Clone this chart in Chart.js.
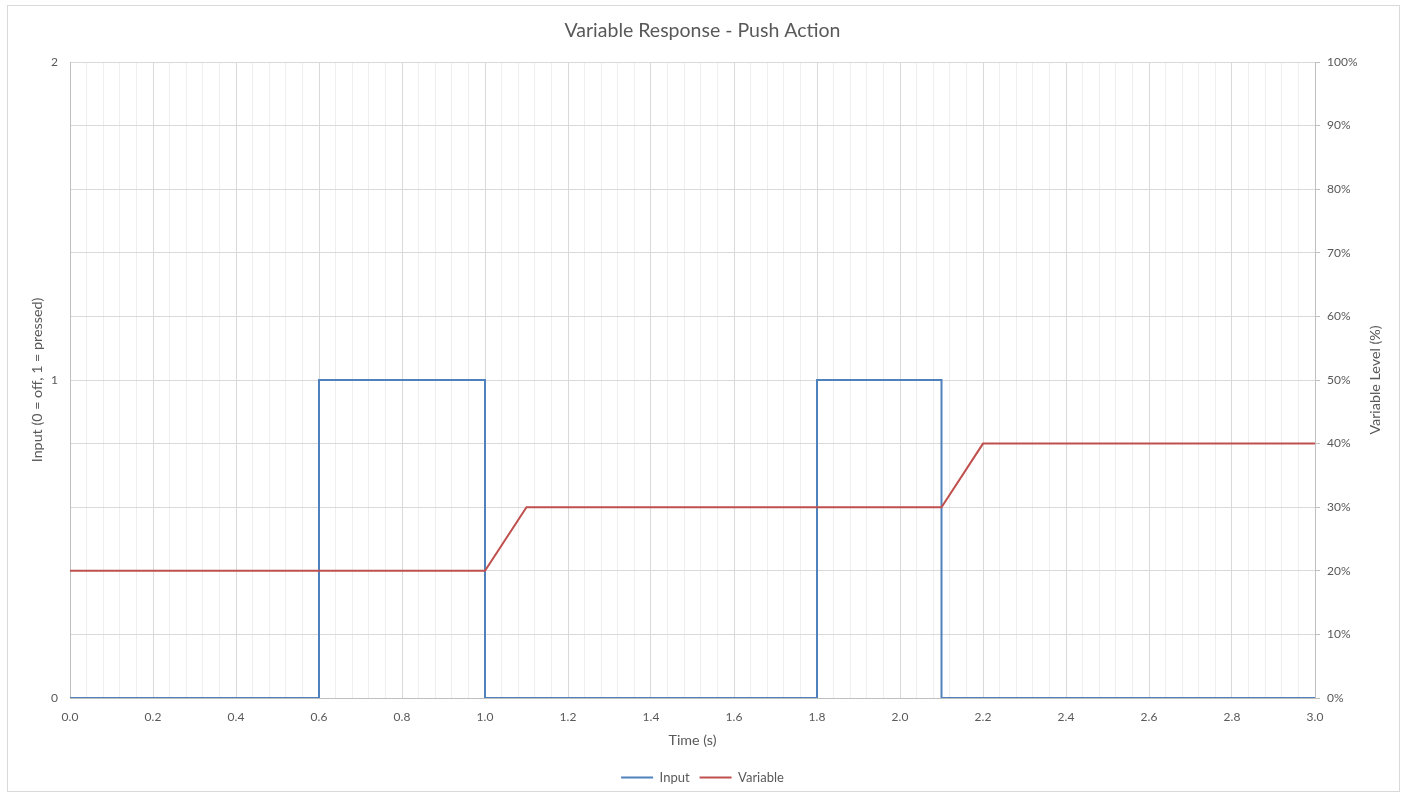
<!DOCTYPE html>
<html>
<head>
<meta charset="utf-8">
<script src="https://cdn.jsdelivr.net/npm/chart.js@4.4.1/dist/chart.umd.min.js"></script>
<style>
html,body{margin:0;padding:0;background:#fff;}
#wrap{width:1405px;height:796px;position:relative;}
</style>
</head>
<body>
<div id="wrap"><canvas id="c" width="1405" height="796"></canvas></div>
<script>
// ---- data ----
const chartTitle = 'Variable Response - Push Action';
const inputTime = [0, 0.6, 0.6, 1.0, 1.0, 1.8, 1.8, 2.1, 2.1, 3.0];
const inputValue = [0, 0, 1, 1, 0, 0, 1, 1, 0, 0];
const variableTime = [0, 1.0, 1.1, 2.1, 2.2, 3.0];
const variableValue = [20, 20, 30, 30, 40, 40];
const seriesNames = ['Input', 'Variable'];
const xTitle = 'Time (s)';
const yLeftTitle = 'Input (0 = off, 1 = pressed)';
const yRightTitle = 'Variable Level (%)';

const TXT = '#595959';
const FONT = 'Lato';
const AXT = 14.3;

function pts(xs, ys) { return xs.map((x, i) => ({x: x, y: ys[i]})); }
function isMult(v, s) { const r = v / s; return Math.abs(r - Math.round(r)) < 1e-6; }

const framePlugin = {
  id: 'frame',
  beforeDraw(chart) {
    const ctx = chart.ctx;
    ctx.save();
    ctx.fillStyle = '#ffffff';
    ctx.fillRect(0, 0, chart.width, chart.height);
    ctx.strokeStyle = '#d9d9d9';
    ctx.lineWidth = 1;
    ctx.strokeRect(7.5, 5.5, 1392, 786);
    ctx.restore();
  },
  afterDraw(chart) {
    const s = chart.scales.y1;
    const ctx = chart.ctx;
    ctx.save();
    ctx.translate(1375, (s.top + s.bottom) / 2);
    ctx.rotate(-Math.PI / 2);
    ctx.textAlign = 'center';
    ctx.textBaseline = 'middle';
    ctx.fillStyle = TXT;
    ctx.font = AXT + 'px ' + FONT;
    ctx.fillText(yRightTitle, 0, 0);
    ctx.restore();
  }
};

new Chart(document.getElementById('c'), {
  type: 'line',
  data: {
    datasets: [
      {
        label: seriesNames[0],
        data: pts(inputTime, inputValue),
        yAxisID: 'y',
        borderColor: '#4F81BD',
        backgroundColor: '#4F81BD',
        borderWidth: 2,
        pointRadius: 0,
        tension: 0,
        order: 1
      },
      {
        label: seriesNames[1],
        data: pts(variableTime, variableValue),
        yAxisID: 'y1',
        borderColor: '#C0504D',
        backgroundColor: '#C0504D',
        borderWidth: 2,
        pointRadius: 0,
        tension: 0,
        order: 0
      }
    ]
  },
  options: {
    responsive: false,
    animation: false,
    devicePixelRatio: 1,
    layout: {padding: {left: 0, right: 0, top: 0, bottom: 2}},
    plugins: {
      title: {
        display: true,
        text: chartTitle,
        color: TXT,
        font: {family: FONT, size: 19.5, weight: 'normal', lineHeight: 1.2},
        padding: {top: 19.3, bottom: 19.3}
      },
      legend: {
        position: 'bottom',
        labels: {
          usePointStyle: true,
          pointStyle: 'line',
          pointStyleWidth: 32,
          color: TXT,
          font: {family: FONT, size: 13},
          padding: 10,
          sort: (a, b) => a.datasetIndex - b.datasetIndex
        }
      },
      tooltip: {enabled: false}
    },
    scales: {
      x: {
        type: 'linear',
        min: 0,
        max: 3,
        afterFit(s) { s.height = 63; },
        ticks: {
          stepSize: 0.04,
          autoSkip: false,
          maxRotation: 0,
          padding: 12,
          color: TXT,
          font: {family: FONT, size: 12},
          callback: (v) => isMult(v, 0.2) ? v.toFixed(1) : ''
        },
        grid: {
          drawTicks: false,
          color: (c) => (c.tick && isMult(c.tick.value, 0.2)) ? '#d9d9d9' : '#eeeeee'
        },
        border: {color: '#bfbfbf'},
        title: {
          display: true,
          text: xTitle,
          color: TXT,
          font: {family: FONT, size: AXT, lineHeight: 1.2},
          padding: {top: 0, bottom: 12.4}
        }
      },
      y: {
        position: 'left',
        min: 0,
        max: 2,
        afterFit(s) { s.width = 70; },
        ticks: {
          stepSize: 0.2,
          autoSkip: false,
          padding: 12,
          color: TXT,
          font: {family: FONT, size: 12},
          callback: (v) => isMult(v, 1) ? String(Math.round(v)) : ''
        },
        grid: {drawTicks: false, color: '#d9d9d9'},
        border: {color: '#bfbfbf'},
        title: {
          display: true,
          text: yLeftTitle,
          color: TXT,
          font: {family: FONT, size: AXT, lineHeight: 1.2},
          padding: {top: 28.4, bottom: 0}
        }
      },
      y1: {
        position: 'right',
        min: 0,
        max: 100,
        afterFit(s) { s.width = 90; },
        ticks: {
          stepSize: 10,
          padding: 7,
          color: TXT,
          font: {family: FONT, size: 12},
          callback: (v) => v + '%'
        },
        grid: {drawOnChartArea: false, drawTicks: true, tickLength: 5, color: '#bfbfbf'},
        border: {color: '#bfbfbf'}
      }
    }
  },
  plugins: [framePlugin]
});
</script>
</body>
</html>
